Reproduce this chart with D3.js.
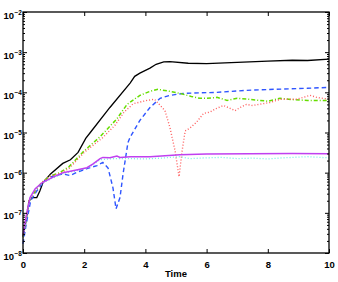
<!DOCTYPE html>
<html lang="en">
<head>
<meta charset="UTF-8">
<title>Time series</title>
<script src="https://d3js.org/d3.v7.min.js"></script>
<style>
  body { margin: 0; background: #fff; }
  text { font-family: "Liberation Sans", Arial, Helvetica, sans-serif; font-weight: bold; }
</style>
</head>
<body>
<script>
const width = 338, height = 282;
const margin = {top: 12, right: 9, bottom: 29, left: 23};

// data (time, value)
const blackT = [0, 0.1, 0.2, 0.3, 0.45, 0.55, 0.65, 0.9, 1.3, 1.55, 1.8, 2.05, 2.2, 2.84, 3.5, 3.65, 3.82, 4.15, 4.35, 4.6, 4.8, 5.4, 6.0, 7.0, 8.0, 8.8, 9.3, 10];
const blackV = [2.5e-8, 6.3e-8, 2.0e-7, 2.4e-7, 2.4e-7, 3.5e-7, 5.6e-7, 9.3e-7, 1.7e-6, 2.1e-6, 3.2e-6, 7.1e-6, 1.0e-5, 4.2e-5, 1.7e-4, 2.5e-4, 3.0e-4, 4.0e-4, 5.0e-4, 5.7e-4, 5.8e-4, 5.3e-4, 5.2e-4, 5.6e-4, 6.0e-4, 6.3e-4, 6.2e-4, 6.7e-4];

const blueT = [0, 0.1, 0.25, 0.45, 0.65, 0.78, 1.0, 1.31, 1.54, 1.8, 2.09, 2.42, 2.61, 2.78, 2.94, 3.04, 3.17, 3.27, 3.43, 3.5, 3.82, 4.15, 4.48, 4.8, 5.23, 6.34, 7.3, 8.2, 9.3, 10];
const blueV = [1.7e-8, 5.0e-8, 2.0e-7, 3.5e-7, 5.6e-7, 7.1e-7, 8.3e-7, 9.3e-7, 8.5e-7, 1.05e-6, 1.26e-6, 1.5e-6, 1.8e-6, 1.3e-6, 4.2e-7, 1.26e-7, 2.4e-7, 9.3e-7, 5.6e-6, 7.6e-6, 2.0e-5, 4.2e-5, 7.1e-5, 8.4e-5, 9.4e-5, 1.0e-4, 1.12e-4, 1.19e-4, 1.26e-4, 1.33e-4];

const greenT = [0, 0.2, 0.4, 0.6, 0.9, 1.2, 1.5, 2.0, 2.5, 2.7, 3.07, 3.4, 3.82, 4.15, 4.41, 4.8, 5.13, 5.5, 5.78, 6.0, 6.34, 6.67, 7.0, 7.4, 8.0, 8.4, 8.8, 9.3, 10];
const greenV = [2.5e-8, 2.0e-7, 3.5e-7, 5.6e-7, 8.3e-7, 1.0e-6, 1.4e-6, 3.5e-6, 7.6e-6, 1.1e-5, 2.2e-5, 5.0e-5, 8.4e-5, 1.06e-4, 1.19e-4, 1.06e-4, 9.4e-5, 7.9e-5, 7.1e-5, 7.1e-5, 7.5e-5, 6.3e-5, 7.1e-5, 6.7e-5, 6.0e-5, 7.1e-5, 6.6e-5, 6.3e-5, 6.3e-5];

const redT = [0, 0.2, 0.4, 0.6, 0.9, 1.2, 1.5, 2.0, 2.6, 3.0, 3.3, 3.6, 4.05, 4.3, 4.64, 4.8, 4.97, 5.1, 5.2, 5.3, 5.46, 5.67, 5.9, 6.1, 6.33, 6.55, 6.7, 6.93, 7.1, 7.3, 7.5, 8.07, 8.4, 8.95, 9.38, 9.6, 10];
const redV = [2.5e-8, 2.0e-7, 3.5e-7, 5.6e-7, 8.3e-7, 9.5e-7, 1.26e-6, 3.2e-6, 7.4e-6, 1.5e-5, 3.2e-5, 5.2e-5, 6.3e-5, 6.7e-5, 3.5e-5, 1.35e-5, 3.5e-6, 7.9e-7, 3.5e-6, 1.1e-5, 1.3e-5, 1.8e-5, 3.0e-5, 3.2e-5, 4.0e-5, 4.7e-5, 4.2e-5, 3.5e-5, 4.2e-5, 5.0e-5, 4.7e-5, 5.6e-5, 6.7e-5, 6.7e-5, 8.4e-5, 7.5e-5, 6.7e-5];

const cyanT = [0, 0.23, 0.4, 0.62, 0.95, 1.31, 1.63, 2.09, 2.52, 3.0, 3.4, 4.0, 4.5, 5.13, 5.46, 6.0, 6.5, 7.0, 7.5, 8.0, 8.5, 9.3, 10];
const cyanV = [2.5e-8, 2.24e-7, 3.8e-7, 5.4e-7, 7.2e-7, 9.5e-7, 1.07e-6, 1.26e-6, 2.1e-6, 2.24e-6, 2.24e-6, 2.2e-6, 2.3e-6, 2.5e-6, 2.24e-6, 2.34e-6, 2.4e-6, 2.24e-6, 2.3e-6, 2.2e-6, 2.34e-6, 2.5e-6, 2.34e-6];

const magentaT = [0, 0.1, 0.23, 0.4, 0.62, 0.95, 1.31, 1.63, 2.09, 2.29, 2.52, 2.61, 2.84, 3.07, 3.17, 3.5, 4.15, 5.13, 6.0, 7.4, 8.8, 10];
const magentaV = [2.7e-8, 7.9e-8, 2.4e-7, 4.0e-7, 5.6e-7, 7.5e-7, 1.0e-6, 1.12e-6, 1.33e-6, 1.66e-6, 2.24e-6, 2.4e-6, 2.34e-6, 2.6e-6, 2.4e-6, 2.5e-6, 2.5e-6, 2.8e-6, 2.9e-6, 2.95e-6, 3.0e-6, 2.95e-6];

const xTicks = [0, 2, 4, 6, 8, 10];
const yExps = [-8, -7, -6, -5, -4, -3, -2];

const svg = d3.select("body").append("svg")
    .attr("width", width)
    .attr("height", height);

const x = d3.scaleLinear().domain([0, 10]).range([margin.left, width - margin.right]);
const y = d3.scaleLog().domain([1e-8, 1e-2]).range([height - margin.bottom, margin.top]);

const line = d3.line().x(d => x(d[0])).y(d => y(d[1]));
const zip = (t, v) => t.map((d, i) => [d, v[i]]);

const series = [
  {t: blackT, v: blackV, color: "#000000", w: 1.3, dash: null},
  {t: blueT, v: blueV, color: "#2f55ff", w: 1.4, dash: "4.5,3"},
  {t: greenT, v: greenV, color: "#66dd00", w: 1.5, dash: "4,2,1,2"},
  {t: redT, v: redV, color: "#ff5c5c", w: 1.4, dash: "1,2"},
  {t: cyanT, v: cyanV, color: "#70f0e4", w: 1.3, dash: "1,2"},
  {t: magentaT, v: magentaV, color: "#c040f0", w: 1.5, dash: null}
];

svg.append("g").selectAll("path")
  .data(series)
  .enter().append("path")
  .attr("d", d => line(zip(d.t, d.v)))
  .attr("fill", "none")
  .attr("stroke", d => d.color)
  .attr("stroke-width", d => d.w)
  .attr("stroke-dasharray", d => d.dash);

// minor log ticks
const minor = [];
yExps.slice(0, -1).forEach(e => { for (let k = 2; k < 10; k++) minor.push(k * Math.pow(10, e)); });
const majors = yExps.map(e => Math.pow(10, e));

function noLabels(axis) { return axis.tickFormat(""); }

const x0 = margin.left, x1 = width - margin.right;
const y0 = height - margin.bottom, y1 = margin.top;

svg.append("g").attr("transform", `translate(0,${y0})`)
  .call(d3.axisBottom(x).tickValues(xTicks).tickSize(-4).tickPadding(8).tickFormat(d3.format("d")));
svg.append("g").attr("transform", `translate(0,${y1})`)
  .call(noLabels(d3.axisTop(x).tickValues(xTicks).tickSize(-4)));
svg.append("g").attr("transform", `translate(${x0},0)`)
  .call(noLabels(d3.axisLeft(y).tickValues(majors).tickSize(-4)));
svg.append("g").attr("transform", `translate(${x0},0)`)
  .call(noLabels(d3.axisLeft(y).tickValues(minor).tickSize(-2)));
svg.append("g").attr("transform", `translate(${x1},0)`)
  .call(noLabels(d3.axisRight(y).tickValues(majors).tickSize(-4)));
svg.append("g").attr("transform", `translate(${x1},0)`)
  .call(noLabels(d3.axisRight(y).tickValues(minor).tickSize(-2)));

svg.selectAll(".domain").remove();
svg.selectAll(".tick line").attr("stroke", "#000").attr("stroke-width", 1);
svg.selectAll(".tick text").attr("font-size", 9.5).attr("fill", "#000")
  .style("font-family", "'Liberation Sans', Arial, sans-serif").style("font-weight", "bold");

svg.append("rect")
  .attr("x", x0).attr("y", y1)
  .attr("width", x1 - x0).attr("height", y0 - y1)
  .attr("fill", "none").attr("stroke", "#000").attr("stroke-width", 1.3);

// y labels 10^n
const yl = svg.append("g").selectAll("g").data(yExps).enter().append("g");
yl.append("text")
  .attr("x", 14).attr("y", d => y(Math.pow(10, d)) + 6.5)
  .attr("text-anchor", "end").attr("font-size", 9.5)
  .text("10");
yl.append("text")
  .attr("x", 14.5).attr("y", d => y(Math.pow(10, d)) + 2.5)
  .attr("font-size", 6.5)
  .text(d => "\u2212" + Math.abs(d));

svg.append("text")
  .attr("x", (x0 + x1) / 2).attr("y", height - 5)
  .attr("text-anchor", "middle").attr("font-size", 9.5)
  .text("Time");
</script>
</body>
</html>
